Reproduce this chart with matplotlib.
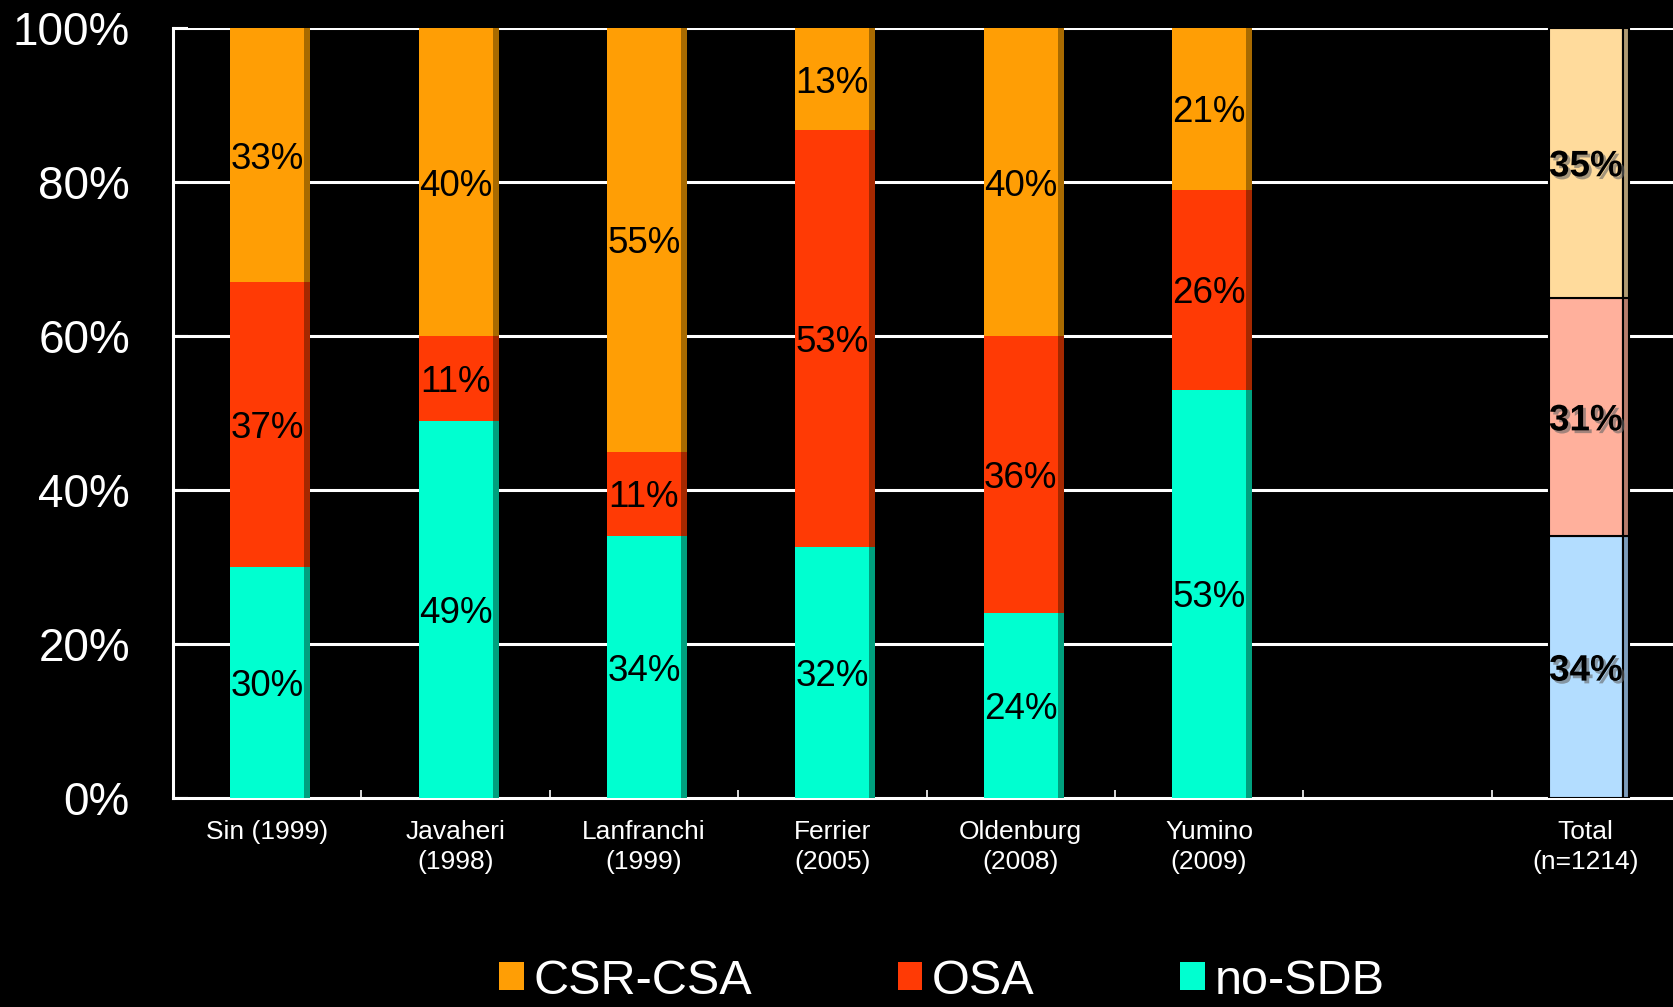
import matplotlib
matplotlib.use("Agg")
import matplotlib.pyplot as plt
import numpy as np
from matplotlib import font_manager
import matplotlib.patheffects as pe

# Study labels (the empty slot leaves a gap before the pooled total)
categories = ["Sin (1999)", "Javaheri\n(1998)", "Lanfranchi\n(1999)", "Ferrier\n(2005)",
              "Oldenburg\n(2008)", "Yumino\n(2009)", "", "Total\n(n=1214)"]
no_sdb = [30, 49, 34, 32, 24, 53, None, 34]
osa = [37, 11, 11, 53, 36, 26, None, 31]
csr_csa = [33, 40, 55, 13, 40, 21, None, 35]
y_ticks = [0, 20, 40, 60, 80, 100]
y_tick_labels = ["0%", "20%", "40%", "60%", "80%", "100%"]
series_names = ["CSR-CSA", "OSA", "no-SDB"]

names = {f.name for f in font_manager.fontManager.ttflist}
base_font = "Liberation Sans" if "Liberation Sans" in names else "DejaVu Sans"
plt.rcParams["font.family"] = [base_font, "DejaVu Sans"]

# face colours / side colours for the studies and for the total
face = {"no": "#00FFD0", "osa": "#FF3A05", "csr": "#FF9E05"}
side = {"no": "#00A07E", "osa": "#A52800", "csr": "#A86A00"}
face_tot = {"no": "#B3DDFF", "osa": "#FFB09C", "csr": "#FFDB9C"}
side_tot = {"no": "#7C9CBC", "osa": "#B87C6C", "csr": "#B09A72"}

fig = plt.figure(figsize=(16.73, 10.07), dpi=100, facecolor="black")
ax = fig.add_axes([173 / 1673, 209 / 1007, 1507 / 1673, 770 / 1007])
ax.set_facecolor("black")

x = np.arange(len(categories))
face_w = 0.393
side_w = 0.032

handles = {}
for i in x:
    if no_sdb[i] is None:
        continue
    vals = [no_sdb[i], osa[i], csr_csa[i]]
    total = sum(vals)
    shares = [100.0 * v / total for v in vals]
    is_total = categories[i].startswith("Total")
    bottom = 0.0
    for key, share, label_val in zip(["no", "osa", "csr"], shares, vals):
        fc = face_tot[key] if is_total else face[key]
        sc = side_tot[key] if is_total else side[key]
        ec = "black" if is_total else "none"
        lw = 1.5 if is_total else 0
        b = ax.bar(i, share, width=face_w, bottom=bottom, color=fc,
                   edgecolor=ec, linewidth=lw, zorder=3)
        ax.bar(i + face_w / 2 + side_w / 2, share, width=side_w, bottom=bottom,
               color=sc, edgecolor=ec, linewidth=lw, zorder=3)
        if not is_total:
            handles.setdefault(key, b)
        txt = ax.text(i, bottom + share / 2, f"{label_val}%", ha="center",
                      va="center_baseline", fontsize=26.5, color="black", zorder=5,
                      fontweight="bold" if is_total else "normal")
        if is_total:
            txt.set_path_effects([pe.withSimplePatchShadow(offset=(2, -2),
                                                           shadow_rgbFace="#666666",
                                                           alpha=0.6)])
        bottom += share

ax.set_xlim(-0.5, len(categories) - 0.5)
ax.set_ylim(0, 100)

# horizontal grid
for yv in y_ticks[1:]:
    ax.axhline(yv, color="white", lw=2.2, zorder=1)

ax.set_yticks(y_ticks)
ax.set_yticklabels(y_tick_labels, fontsize=33, color="white", va="center_baseline")
ax.tick_params(axis="y", direction="in", length=11, width=1.5, color="white", pad=31)

ax.set_xticks(x)
ax.set_xticklabels(categories, fontsize=19, color="white", linespacing=1.3)
ax.set_xticks(x[:-1] + 0.5, minor=True)
ax.tick_params(axis="x", which="major", length=0, pad=16)
ax.tick_params(axis="x", which="minor", direction="in", length=6, width=1.2, color="white")

for s in ["top", "right"]:
    ax.spines[s].set_visible(False)
for s in ["left", "bottom"]:
    ax.spines[s].set_color("white")
    ax.spines[s].set_linewidth(2.2)

leg = fig.legend([handles["csr"], handles["osa"], handles["no"]], series_names,
                 loc="center", bbox_to_anchor=(942 / 1673, 26 / 1007), ncol=3,
                 frameon=False, handlelength=0.5, handleheight=0.5,
                 handletextpad=0.2, columnspacing=3.0, borderpad=0.1,
                 prop={"size": 35})
for t in leg.get_texts():
    t.set_color("white")

fig.savefig("out.png", dpi=100, facecolor="black")
